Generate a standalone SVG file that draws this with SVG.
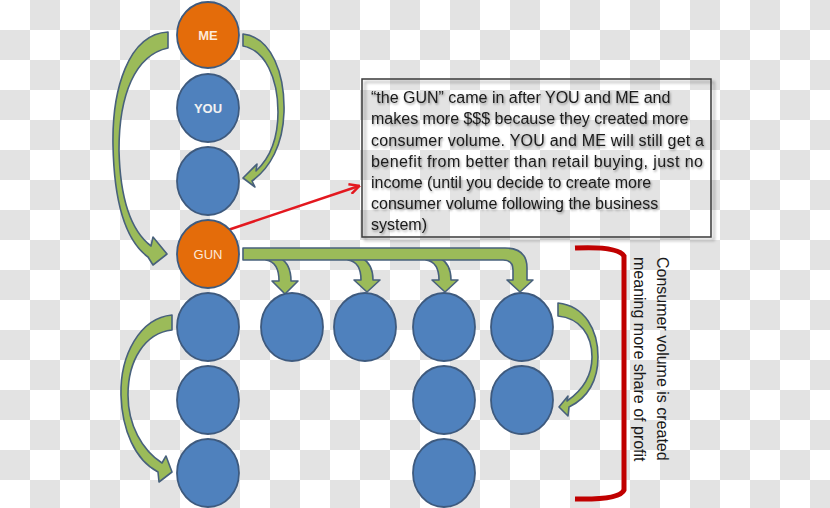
<svg xmlns="http://www.w3.org/2000/svg" width="830" height="508" viewBox="0 0 830 508">
<defs>
<pattern id="checker" width="60" height="60" patternUnits="userSpaceOnUse">
<rect width="60" height="60" fill="#ffffff"/>
<rect x="30" y="0" width="30" height="30" fill="#e3e3e3"/>
<rect x="0" y="30" width="30" height="30" fill="#e3e3e3"/>
</pattern>
<marker id="redhead" viewBox="0 0 12 12" refX="10.5" refY="6" markerWidth="12" markerHeight="12" markerUnits="userSpaceOnUse" orient="auto">
<path d="M1,1 L11,6 L1,11" fill="none" stroke="#e3181f" stroke-width="2.5" stroke-linejoin="miter"/>
</marker>
<filter id="tshadow" x="-5%" y="-20%" width="110%" height="150%">
<feDropShadow dx="1" dy="1.5" stdDeviation="1" flood-color="#000" flood-opacity="0.4"/>
</filter>
<filter id="bshadow" x="-5%" y="-5%" width="115%" height="115%">
<feDropShadow dx="3" dy="3" stdDeviation="1.5" flood-color="#000" flood-opacity="0.35"/>
</filter>
</defs>
<style>
.blue{fill:#4f81bd;stroke:#3e5a7e;stroke-width:1.8}
.orange{fill:#e46c0a;stroke:#3e5a7e;stroke-width:1.8}
.green{fill:#9bbb59;stroke:#48617c;stroke-width:1.6;stroke-linejoin:round}
.lbl{font-family:"Liberation Sans",Arial,sans-serif;font-size:13px;text-anchor:middle}
.note{font-family:"Liberation Sans",Arial,sans-serif;font-size:16px;fill:#1a1a1a}
.side{font-family:"Liberation Sans",Arial,sans-serif;font-size:16px;fill:#1a1a1a}
</style>
<rect width="830" height="508" fill="url(#checker)"/>

<g id="connectors">
<path id="arrow-me-gun" class="green" d="M168 32 C128 34 112 90 113 145 C114 200 125 240 148 257 L153 265 L167 254 L153 237 L151 246 C130 230 120 195 119 150 C119 95 135 55 168 48 Z"/>
<path id="arrow-me-c3" class="green" d="M243 34 C272 37 285 75 284 112 C283 145 270 168 252 181 L255 187 L243 178 L257 164 L256 171 C270 158 278 138 278 112 C278 78 265 50 243 46 Z"/>
<path id="arrow-col1" class="green" d="M172 315 C140 318 120 355 121 395 C122 430 135 460 158 472 L159 482 L172 472 L166 456 L162 463 C142 450 128 425 128 395 C128 360 145 333 172 330 Z"/>
<path id="arrow-col5" class="green" d="M558 303 C585 306 598 330 598 357 C598 380 588 398 569 407 L568 416 L559 407 L568 396 L567 401 C583 390 592 375 592 357 C592 335 580 318 558 316 Z"/>
<path id="branch-1" class="green" d="M266 260 Q279 262 279 281 L272 281 L285 294 L298 281 L291 281 Q291 264 280 258 Z"/>
<path id="branch-2" class="green" d="M348 260 Q361 262 361 280 L354 280 L367 292 L380 280 L373 280 Q373 264 362 258 Z"/>
<path id="branch-3" class="green" d="M426 260 Q439 262 439 280 L432 280 L445 292 L458 280 L451 280 Q451 264 440 258 Z"/>
<path id="gun-bar" class="green" d="M243 248 L505 248 Q527 248 527 268 L527 280 L533 280 L520 292 L507 280 L513 280 L513 270 Q513 260 503 260 L243 260 Z"/>
<line id="red-pointer" x1="228" y1="230" x2="359" y2="186" stroke="#e3181f" stroke-width="2.5" marker-end="url(#redhead)"/>
<path id="bracket" d="M575 248 Q618 246 624 256 L624 490 Q620 500 575 499" fill="none" stroke="#c00000" stroke-width="5"/>
</g>

<g id="node-me"><ellipse class="orange" cx="208" cy="35" rx="31" ry="33"/><text class="lbl" x="208" y="40" font-weight="bold" fill="#fde9d9">ME</text></g>
<g id="node-you"><ellipse class="blue" cx="208" cy="108" rx="31" ry="34"/><text class="lbl" x="208" y="113" font-weight="bold" fill="#f2f2f2">YOU</text></g>
<g id="node-c3"><ellipse class="blue" cx="208" cy="181" rx="31" ry="34"/></g>
<g id="node-gun"><ellipse class="orange" cx="208" cy="254" rx="31" ry="34"/><text class="lbl" x="208" y="259" fill="#fde9d9">GUN</text></g>
<g id="node-a1"><ellipse class="blue" cx="208" cy="327" rx="31" ry="34"/></g>
<g id="node-a2"><ellipse class="blue" cx="208" cy="400" rx="31" ry="34"/></g>
<g id="node-a3"><ellipse class="blue" cx="208" cy="473" rx="31" ry="34"/></g>
<g id="node-b1"><ellipse class="blue" cx="292" cy="327" rx="31" ry="34"/></g>
<g id="node-c1"><ellipse class="blue" cx="365" cy="327" rx="31" ry="34"/></g>
<g id="node-d1"><ellipse class="blue" cx="444" cy="327" rx="31" ry="34"/></g>
<g id="node-d2"><ellipse class="blue" cx="444" cy="400" rx="31" ry="34"/></g>
<g id="node-d3"><ellipse class="blue" cx="444" cy="473" rx="31" ry="34"/></g>
<g id="node-e1"><ellipse class="blue" cx="522" cy="327" rx="31" ry="34"/></g>
<g id="node-e2"><ellipse class="blue" cx="522" cy="400" rx="31" ry="34"/></g>

<g id="note">
<rect x="362" y="79" width="349" height="158" fill="none" stroke="#3a3a3a" stroke-width="1.5" filter="url(#bshadow)"/>
<g class="note" filter="url(#tshadow)">
<text x="371" y="103">“the GUN” came in after YOU and ME and</text>
<text x="371" y="124">makes more $$$ because they created more</text>
<text x="371" y="145.5" textLength="333" lengthAdjust="spacing">consumer volume. YOU and ME will still get a</text>
<text x="371" y="167" textLength="332" lengthAdjust="spacing">benefit from better than retail buying, just no</text>
<text x="371" y="188">income (until you decide to create more</text>
<text x="371" y="209">consumer volume following the business</text>
<text x="371" y="230">system)</text>
</g>
</g>

<g id="side-label" class="side">
<text transform="translate(657,257) rotate(90)">Consumer volume is created</text>
<text transform="translate(634,257) rotate(90)">meaning more share of profit</text>
</g>
</svg>
